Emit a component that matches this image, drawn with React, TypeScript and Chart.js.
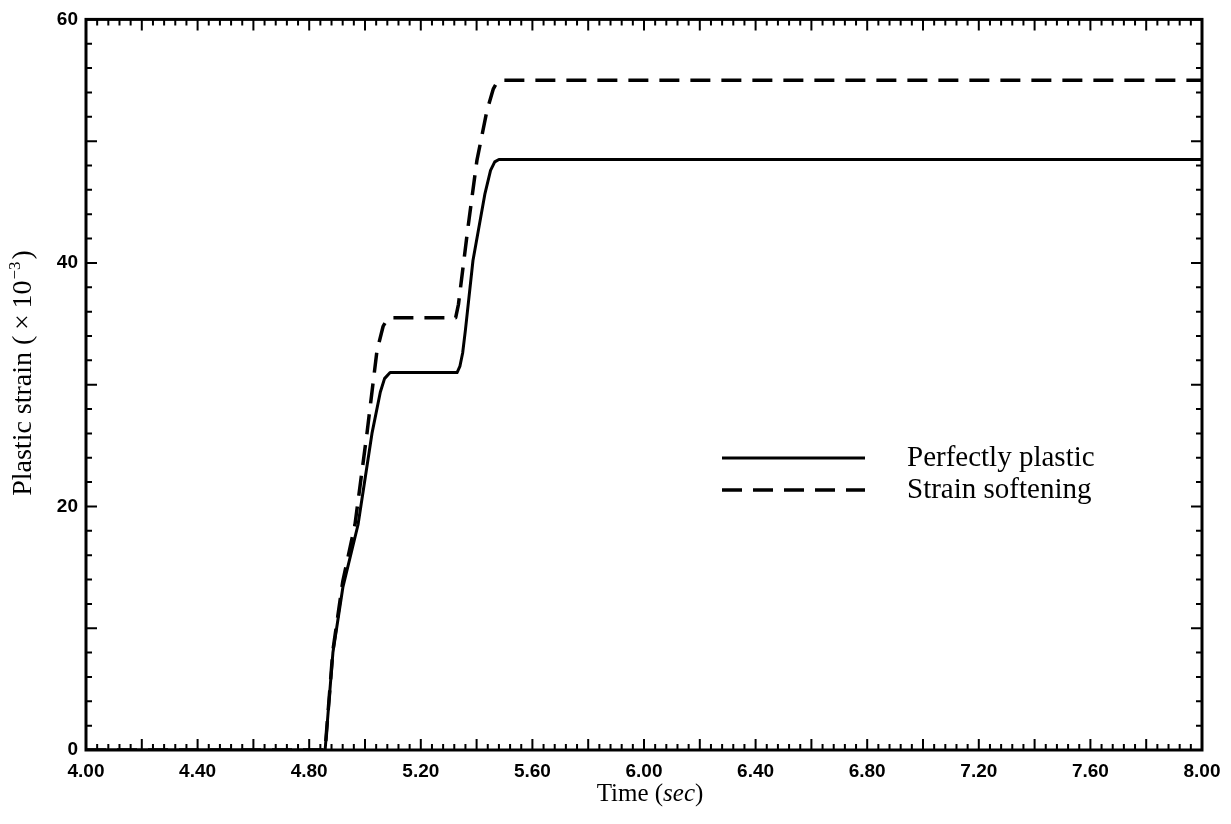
import React, { useEffect, useRef } from 'react';
import { Chart, registerables } from 'chart.js';

Chart.register(...registerables);

// ---- data ----
const timeSolid = [4.0, 4.857, 4.885, 4.921, 4.975, 5.025, 5.055, 5.07, 5.09, 5.33, 5.34, 5.35, 5.36, 5.387, 5.43, 5.45, 5.465, 5.48, 8.0];
const strainSolid = [0, 0, 8.0, 13.4, 18.5, 26.0, 29.4, 30.5, 31.0, 31.0, 31.5, 32.6, 34.5, 40.2, 45.7, 47.6, 48.3, 48.5, 48.5];
const timeDashed = [4.0, 4.857, 4.885, 4.92, 4.964, 5.007, 5.043, 5.065, 5.08, 5.095, 5.325, 5.335, 5.369, 5.401, 5.437, 5.46, 5.475, 5.49, 8.0];
const strainDashed = [0, 0, 8.2, 13.8, 18.5, 26.0, 32.8, 34.8, 35.4, 35.5, 35.5, 36.6, 42.9, 48.4, 52.5, 54.3, 54.9, 55.0, 55.0];

const seriesLabels = ['Perfectly plastic', 'Strain softening'];

const xTickValues = [4.0, 4.4, 4.8, 5.2, 5.6, 6.0, 6.4, 6.8, 7.2, 7.6, 8.0];
const xTickLabels = ['4.00', '4.40', '4.80', '5.20', '5.60', '6.00', '6.40', '6.80', '7.20', '7.60', '8.00'];
const yTickValues = [0, 20, 40, 60];
const yTickLabels = ['0', '20', '40', '60'];

const xMin = 4, xMax = 8, xMinorStep = 0.04;
const yMin = 0, yMax = 60, yMinorStep = 2;

const tickFont = "'Liberation Sans', Arial, sans-serif";
const serif = "'Liberation Serif', 'Times New Roman', serif";

const framePlugin = {
  id: 'framePlugin',
  afterDatasetsDraw(chart: any) {
    const { ctx, chartArea: a, scales } = chart;
    const xs = scales.x, ys = scales.y;
    ctx.save();
    ctx.strokeStyle = '#000';
    ctx.lineWidth = 3;
    ctx.strokeRect(a.left, a.top, a.right - a.left, a.bottom - a.top);

    ctx.lineWidth = 2;
    ctx.beginPath();
    const nx = Math.round((xMax - xMin) / xMinorStep);
    for (let i = 0; i <= nx; i++) {
      const px = xs.getPixelForValue(xMin + i * xMinorStep);
      const len = i % 5 === 0 ? 11 : 6;
      ctx.moveTo(px, a.bottom); ctx.lineTo(px, a.bottom - len);
      ctx.moveTo(px, a.top); ctx.lineTo(px, a.top + len);
    }
    const ny = Math.round((yMax - yMin) / yMinorStep);
    for (let j = 0; j <= ny; j++) {
      const py = ys.getPixelForValue(yMin + j * yMinorStep);
      const len = j % 5 === 0 ? 11 : 6;
      ctx.moveTo(a.left, py); ctx.lineTo(a.left + len, py);
      ctx.moveTo(a.right, py); ctx.lineTo(a.right - len, py);
    }
    ctx.stroke();

    // legend
    ctx.fillStyle = '#000';
    const ds = chart.data.datasets;
    const legY = [458, 490];
    ds.forEach((d: any, k: number) => {
      ctx.beginPath();
      ctx.lineWidth = d.borderWidth;
      ctx.setLineDash(d.borderDash || []);
      ctx.moveTo(722, legY[k]);
      ctx.lineTo(865, legY[k]);
      ctx.stroke();
      ctx.setLineDash([]);
      ctx.font = `29px ${serif}`;
      ctx.textBaseline = 'middle';
      ctx.textAlign = 'left';
      ctx.fillText(d.label, 907, legY[k]);
    });

    // x title: Time (sec)
    ctx.textBaseline = 'alphabetic';
    ctx.textAlign = 'left';
    const xParts: [string, string][] = [['Time (', `25px ${serif}`], ['sec', `italic 25px ${serif}`], [')', `25px ${serif}`]];
    let total = 0;
    xParts.forEach(([t, f]) => { ctx.font = f; total += ctx.measureText(t).width; });
    let cx = 650 - total / 2;
    xParts.forEach(([t, f]) => { ctx.font = f; ctx.fillText(t, cx, 801); cx += ctx.measureText(t).width; });

    // y title
    ctx.translate(22, 373);
    ctx.rotate(-Math.PI / 2);
    const main = 'Plastic strain (\u2009\u00d7\u200910';
    const sup = '\u22123';
    const close = ')';
    ctx.font = `28px ${serif}`;
    const w1 = ctx.measureText(main).width;
    const w3 = ctx.measureText(close).width;
    ctx.font = `17px ${serif}`;
    const w2 = ctx.measureText(sup).width;
    let ux = -(w1 + w2 + w3 + 3) / 2;
    const base = 9;
    ctx.font = `28px ${serif}`;
    ctx.fillText(main, ux, base); ux += w1;
    ctx.font = `17px ${serif}`;
    ctx.fillText(sup, ux + 1, base - 11); ux += w2 + 3;
    ctx.font = `28px ${serif}`;
    ctx.fillText(close, ux, base);
    ctx.restore();
  },
};

export default function App() {
  const ref = useRef<HTMLCanvasElement | null>(null);
  useEffect(() => {
    if (!ref.current) return;
    const chart = new Chart(ref.current, {
      type: 'line',
      data: {
        datasets: [
          {
            label: seriesLabels[0],
            data: timeSolid.map((t, i) => ({ x: t, y: strainSolid[i] })),
            borderColor: '#000',
            borderWidth: 3,
            pointRadius: 0,
            fill: false,
            tension: 0,
            borderJoinStyle: 'round',
          },
          {
            label: seriesLabels[1],
            data: timeDashed.map((t, i) => ({ x: t, y: strainDashed[i] })),
            borderColor: '#000',
            borderWidth: 3.5,
            borderDash: [20, 11],
            pointRadius: 0,
            fill: false,
            tension: 0,
            borderJoinStyle: 'round',
          },
        ],
      },
      options: {
        responsive: false,
        animation: false,
        layout: { padding: { top: 19, right: 29, left: 0, bottom: 0 } },
        plugins: { legend: { display: false }, tooltip: { enabled: false } },
        scales: {
          x: {
            type: 'linear',
            min: xMin,
            max: xMax,
            grid: { display: false, drawTicks: false },
            border: { display: false },
            afterBuildTicks: (s: any) => { s.ticks = xTickValues.map((v) => ({ value: v })); },
            afterFit: (s: any) => { s.height = 74; },
            ticks: {
              autoSkip: false,
              maxRotation: 0,
              padding: 10,
              color: '#000',
              font: { family: tickFont, size: 19, weight: 'bold' },
              callback: (_v: any, i: number) => xTickLabels[i],
            },
          },
          y: {
            type: 'linear',
            min: yMin,
            max: yMax,
            grid: { display: false, drawTicks: false },
            border: { display: false },
            afterBuildTicks: (s: any) => { s.ticks = yTickValues.map((v) => ({ value: v })); },
            afterFit: (s: any) => { s.width = 86; },
            ticks: {
              autoSkip: false,
              padding: 8,
              color: '#000',
              font: { family: tickFont, size: 19, weight: 'bold' },
              callback: (_v: any, i: number) => yTickLabels[i],
            },
          },
        },
      },
      plugins: [framePlugin],
    } as any);
    return () => chart.destroy();
  }, []);
  return (
    <div style={{ position: 'fixed', left: 0, top: 0, width: 1231, height: 824, background: '#fff' }}>
      <canvas ref={ref} width={1231} height={824} style={{ display: 'block' }} />
    </div>
  );
}
